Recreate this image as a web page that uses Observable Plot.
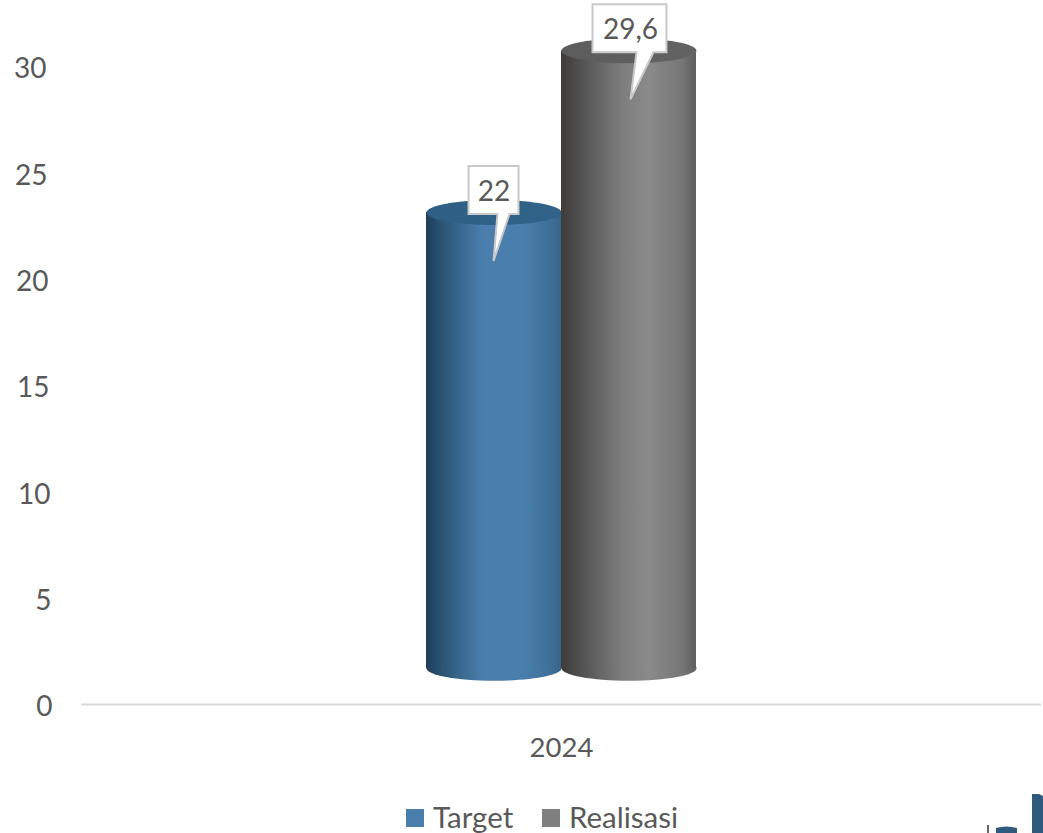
<!DOCTYPE html>
<html>
<head>
<meta charset="utf-8">
<script src="https://cdn.jsdelivr.net/npm/d3@7"></script>
<script src="https://cdn.jsdelivr.net/npm/@observablehq/plot@0.6"></script>
<style>
html,body{margin:0;padding:0;background:#fff;width:1043px;height:833px;overflow:hidden}
svg{display:block}
#legend{position:relative;height:43px;font:29.5px Lato,sans-serif;color:#595959}
.key{position:absolute;top:12px;line-height:30px;white-space:nowrap}
.swatch{position:absolute;top:19px;width:18px;height:18px}
</style>
</head>
<body>
<div id="chart"></div>
<div id="legend"></div>
<script>
const years = ["2024"];
const series = ["Target", "Realisasi"];
const values = [22, 29.6];
const valueLabels = ["22", "29,6"];
const yTicks = [0, 5, 10, 15, 20, 25, 30];
const swatchColors = ["#4a7ead", "#7f7f7f"];

// The reference is a 3D cylinder chart: its floor and tops sit off the axis.
const floorLift = 1.7;
const topLift = 1.13;
const tipDrop = 1.15;

const rows = series.map((s, i) => ({
  year: years[0], series: s, value: values[i], label: valueLabels[i],
  gradient: `url(#side${i})`, cap: `url(#cap${i})`
}));

const ellipse = {
  draw(c, size) {
    const rx = Math.sqrt(size / Math.PI), ry = rx * 12.5 / 67.5, k = 0.5523;
    c.moveTo(-rx, 0);
    c.bezierCurveTo(-rx, -ry * k, -rx * k, -ry, 0, -ry);
    c.bezierCurveTo(rx * k, -ry, rx, -ry * k, rx, 0);
    c.bezierCurveTo(rx, ry * k, rx * k, ry, 0, ry);
    c.bezierCurveTo(-rx * k, ry, -rx, ry * k, -rx, 0);
    c.closePath();
  }
};
const callout = (left, right, baseL, baseR, tip) => ({
  draw(c) {
    c.moveTo(left, -95);
    c.lineTo(right, -95);
    c.lineTo(right, -47);
    c.lineTo(baseR, -47);
    c.lineTo(tip, 0);
    c.lineTo(baseL, -47);
    c.lineTo(left, -47);
    c.closePath();
  }
});
const shapes = [callout(-25.5, 24.5, 3.5, 15.5, -0.5), callout(-36.5, 37.5, 7.5, 24.5, 1.5)];
const labelShift = [0, 1.5];

const H = 790;
const font = "Lato, sans-serif";
const ink = "#595959";

const chart = Plot.plot({
  width: 1043, height: H,
  marginLeft: 81, marginRight: 2, marginTop: 2, marginBottom: H - 704,
  style: {fontFamily: font, fontSize: "27.5px", color: ink, background: "#fff", overflow: "visible"},
  fx: {domain: years, label: null, padding: 0, round: false, axis: null},
  x: {domain: series, axis: null, paddingInner: 0, paddingOuter: 2.556, round: false},
  y: {domain: [0, 33], axis: null},
  marks: [
    // Tick labels lean with the 3D perspective, so each has its own padding.
    ...yTicks.map((t) => Plot.axisY([t], {tickSize: 0, tickPadding: 29 + t / 5, label: null, fontSize: 28, dy: 3})),
    Plot.axisFx({anchor: "bottom", tickSize: 0, tickPadding: 33, label: null, fontSize: 27.5}),
    Plot.ruleY([0], {stroke: "#d9d9d9", strokeWidth: 2}),
    ...rows.flatMap((row) => [
      Plot.dot([row], {x: "series", y: () => floorLift, fx: "year", r: 67.5, symbol: ellipse, fill: row.gradient, stroke: "none"}),
      Plot.barY([row], {x: "series", fx: "year", y1: () => floorLift, y2: (d) => d.value + topLift, fill: row.gradient}),
      Plot.dot([row], {x: "series", y: (d) => d.value + topLift, fx: "year", r: 67.5, symbol: ellipse, fill: row.cap, stroke: "none"})
    ]),
    ...rows.map((row, i) =>
      Plot.dot([row], {x: "series", y: (d) => d.value - tipDrop, fx: "year", r: 10, symbol: shapes[i], fill: "#fff", stroke: "#c9c9c9", strokeWidth: 2})
    ),
    ...rows.map((row, i) =>
      Plot.text([row], {x: "series", y: (d) => d.value - tipDrop, fx: "year", text: "label", dy: -69, dx: labelShift[i], fontSize: 28, fill: ink, fontFamily: font})
    )
  ]
});

chart.insertAdjacentHTML("afterbegin", `<defs>
  <linearGradient id="side0" x1="0" x2="1" y1="0" y2="0">
    <stop offset="0" stop-color="#1e3d58"/><stop offset=".12" stop-color="#2c5577"/>
    <stop offset=".42" stop-color="#4a7fad"/><stop offset=".7" stop-color="#4a7fad"/>
    <stop offset=".92" stop-color="#3f6f99"/><stop offset="1" stop-color="#386488"/>
  </linearGradient>
  <linearGradient id="side1" x1="0" x2="1" y1="0" y2="0">
    <stop offset="0" stop-color="#3e3c3a"/><stop offset=".14" stop-color="#505050"/>
    <stop offset=".45" stop-color="#7d7d7d"/><stop offset=".65" stop-color="#8a8a8a"/>
    <stop offset=".9" stop-color="#767676"/><stop offset="1" stop-color="#5e5e5e"/>
  </linearGradient>
  <linearGradient id="cap0" x1="0" x2="1" y1="0" y2="0">
    <stop offset="0" stop-color="#2f5f85"/><stop offset="1" stop-color="#316388"/>
  </linearGradient>
  <linearGradient id="cap1" x1="0" x2="1" y1="0" y2="0">
    <stop offset="0" stop-color="#5c5c5c"/><stop offset="1" stop-color="#636363"/>
  </linearGradient>
</defs>`);
document.getElementById("chart").append(chart);

const legend = document.getElementById("legend");
const keyX = [[406, 433], [542, 569]];
series.forEach((s, i) => {
  const sw = document.createElement("div");
  sw.className = "swatch";
  sw.style.left = keyX[i][0] + "px";
  sw.style.background = swatchColors[i];
  legend.append(sw);
  const k = document.createElement("div");
  k.className = "key";
  k.style.left = keyX[i][1] + "px";
  k.textContent = s;
  legend.append(k);
});
legend.insertAdjacentHTML("beforeend", `<svg width="83" height="43" style="position:absolute;left:960px;top:0">
  <path d="M72 4h7l4 2v37h-11z" fill="#2f5a7e"/><path d="M36 43v-5q10-3 21 0v5z" fill="#2f5a7e"/>
  <path d="M28 35v8" stroke="#333" stroke-width="1.5"/></svg>`);
</script>
</body>
</html>
